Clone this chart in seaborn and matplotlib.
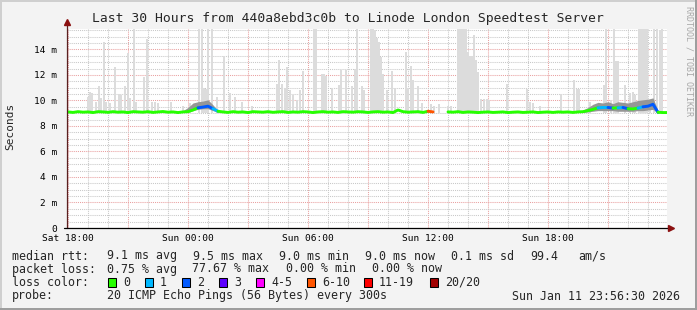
import numpy as np
import pandas as pd
import matplotlib
matplotlib.use("Agg")
import matplotlib.pyplot as plt
import seaborn as sns
from matplotlib.patches import Rectangle
from matplotlib.ticker import FixedLocator

# ---------------- data ----------------
# hours since Sat 18:00, 15-minute steps
median_hours = [i * 0.25 for i in range(121)]
median_ms = [
    9.10, 9.06, 9.12, 9.08, 9.10, 9.05, 9.12, 9.10, 9.07, 9.12,
    9.08, 9.10, 9.05, 9.12, 9.10, 9.08, 9.12, 9.06, 9.10, 9.13,
    9.08, 9.10, 9.05, 9.10, 9.12, 9.25, 9.42, 9.48, 9.55, 9.35,
    9.15, 9.10, 9.06, 9.12, 9.08, 9.10, 9.05, 9.12, 9.10, 9.08,
    9.12, 9.07, 9.10, 9.12, 9.06, 9.10, 9.08, 9.12, 9.10, 9.05,
    9.10, 9.12, 9.08, 9.10, 9.06, 9.12, 9.10, 9.08, 9.12, 9.10,
    9.06, 9.10, 9.12, 9.08, 9.10, 9.05, 9.25, 9.12, 9.08, 9.10,
    9.12, 9.06, 9.15, 9.10, np.nan, np.nan, 9.10, 9.08, 9.12, 9.06,
    9.10, 9.08, 9.05, 9.08, 9.10, 9.06, 9.08, 9.10, 9.05, 9.08,
    9.10, 9.06, 9.08, 9.10, 9.05, 9.08, 9.10, 9.06, 9.10, 9.08,
    9.10, 9.06, 9.10, 9.12, 9.20, 9.30, 9.42, 9.45, 9.45, 9.40,
    9.42, 9.45, 9.35, 9.33, 9.40, 9.50, 9.55, 9.70, 9.07, 9.05,
    9.05,
]
loss_count = [0] * 121
for _i, _v in {26: 2, 27: 2, 28: 2, 29: 1, 72: 7, 106: 1, 107: 1, 108: 2,
               110: 1, 111: 2, 114: 1, 115: 2, 116: 2, 117: 2}.items():
    loss_count[_i] = _v

spike_hours = [
    1.0, 1.1, 1.2, 1.4, 1.55, 1.65, 1.8, 1.9, 2.1, 2.35,
    2.55, 2.65, 2.85, 3.0, 3.1, 3.3, 3.4, 3.8, 3.95, 4.2,
    4.35, 4.5, 5.15, 5.75, 6.1, 6.55, 6.7, 6.8, 6.9, 7.0,
    7.2, 7.45, 7.8, 8.1, 8.35, 8.7, 9.2, 10.45, 10.55, 10.7,
    10.85, 10.95, 11.1, 11.25, 11.45, 11.6, 11.75,
    12.3, 12.4, 12.7, 12.8, 12.9, 13.2, 13.55, 13.65, 13.9, 14.2,
    14.35, 14.45, 14.7, 14.8, 15.15, 15.25, 15.35, 15.45, 15.55, 15.65,
    15.75, 15.95, 16.2, 16.35, 16.9, 17.0, 17.15, 17.25, 17.5, 17.7,
    18.15, 18.3, 18.55, 19.0, 19.15, 19.5, 19.6, 19.7, 19.8, 19.9,
    20.0, 20.1, 20.2, 20.3, 20.4, 20.5, 20.65, 20.8, 20.95, 21.05,
    21.95, 22.95, 23.1, 23.25, 23.6,
    24.65, 25.3, 25.45, 25.55, 26.1, 26.8, 26.9, 27.15, 27.3, 27.4,
    27.5, 27.85, 28.1, 28.25, 28.35, 28.55, 28.65, 28.75, 28.85, 28.95,
    29.1, 29.3, 29.45, 29.6, 29.7,
]
spike_tops = [
    10.3, 10.7, 10.6, 9.9, 11.1, 10.2, 14.6, 9.9, 9.8, 12.6,
    10.5, 10.4, 11.1, 13.7, 10.2, 15.6, 9.9, 11.8, 14.8, 9.9,
    9.9, 9.8, 9.9, 9.6, 9.8, 15.6, 15.6, 11.0, 10.9, 15.6,
    15.6, 10.3, 13.5, 10.6, 10.3, 9.9, 9.6, 11.3, 13.2, 11.3,
    11.0, 12.6, 10.8, 10.4, 10.0, 10.8, 12.3,
    15.6, 15.6, 12.1, 12.1, 11.9, 11.0, 11.2, 12.4, 12.4, 11.1,
    12.5, 15.6, 11.1, 10.8, 15.6, 15.6, 15.5, 14.9, 14.6, 13.4,
    12.1, 10.8, 12.3, 11.0, 13.8, 11.0, 12.7, 11.6, 11.1, 9.8,
    9.7, 9.6, 9.7, 9.6, 9.6, 15.6, 15.6, 15.6, 15.6, 15.6,
    13.8, 13.5, 13.5, 15.1, 13.2, 12.2, 10.1, 10.1, 10.1, 10.0,
    11.3, 10.9, 9.9, 9.8, 9.6,
    10.5, 11.6, 10.9, 10.9, 9.9, 11.2, 15.6, 10.0, 15.6, 13.1,
    13.1, 11.2, 10.6, 10.7, 10.4, 15.6, 15.6, 15.6, 15.6, 15.6,
    10.0, 15.6, 15.6, 15.5, 15.6,
]

dark_a_hours = [5.75, 6.0, 6.25, 6.5, 6.75, 7.0, 7.25, 7.5]
dark_a_lo = [9.05, 9.08, 9.20, 9.30, 9.35, 9.35, 9.20, 9.05]
dark_a_hi = [9.20, 9.45, 9.80, 9.90, 9.95, 10.05, 9.65, 9.20]
dark_b_hours = [25.75, 26.0, 26.25, 26.5, 26.75, 27.0, 27.25, 27.5,
                27.75, 28.0, 28.25, 28.5, 28.75, 29.0, 29.25, 29.5]
dark_b_lo = [9.05, 9.10, 9.15, 9.20, 9.20, 9.20, 9.20, 9.15,
             9.15, 9.15, 9.15, 9.20, 9.20, 9.25, 9.30, 9.00]
dark_b_hi = [9.25, 9.45, 9.70, 9.85, 9.80, 9.90, 9.75, 9.90,
             9.85, 9.80, 9.90, 10.00, 10.05, 10.10, 10.20, 9.20]

loss_labels = ["0", "1", "2", "3", "4-5", "6-10", "11-19", "20/20"]
loss_colors = ["#26ff00", "#00b8ff", "#0059ff", "#5e00ff",
               "#ff00ff", "#ff5500", "#ff0000", "#a10000"]

x_tick_labels = ["Sat 18:00", "Sun 00:00", "Sun 06:00", "Sun 12:00", "Sun 18:00"]
y_tick_labels = ["0", "2 m", "4 m", "6 m", "8 m", "10 m", "12 m", "14 m"]

title = "Last 30 Hours from 440a8ebd3c0b to Linode London Speedtest Server"

# ---------------- style ----------------
W, H = 697, 310
sns.set_theme(style="white")
plt.rcParams["font.family"] = ["DejaVu Sans Mono", "DejaVu Sans"]

fig = plt.figure(figsize=(W / 100, H / 100), dpi=100, facecolor="#f3f3f3")
ax = fig.add_axes([67 / W, (H - 228) / H, 600 / W, 199 / H])
ax.set_facecolor("white")
ax.set_xlim(-0.05, 29.95)
ax.set_ylim(0, 15.6)

def loss_class(n):
    if n <= 3:
        return n
    if n <= 5:
        return 4
    if n <= 10:
        return 5
    if n <= 19:
        return 6
    return 7

# smoke
ax.bar(spike_hours, [t - 9.0 for t in spike_tops], bottom=9.0, width=0.1,
       color="#dcdcdc", linewidth=0, zorder=2, align="center")
ax.fill_between(dark_a_hours, dark_a_lo, dark_a_hi, color="#969696", lw=0, zorder=3)
ax.fill_between(dark_b_hours, dark_b_lo, dark_b_hi, color="#969696", lw=0, zorder=3)

# median line coloured by loss
df = pd.DataFrame({"h": median_hours, "ms": median_ms, "loss": loss_count})
runs = []
cur = None
for i in range(len(df) - 1):
    a, b = df.ms[i], df.ms[i + 1]
    if np.isnan(a) or np.isnan(b):
        cur = None
        continue
    c = loss_colors[loss_class(df.loss[i])]
    if cur is not None and cur[0] == c and cur[2] == i:
        cur[2] = i + 1
    else:
        cur = [c, i, i + 1]
        runs.append(cur)
for c, s, e in runs:
    seg = df.iloc[s:e + 1]
    sns.lineplot(x=seg.h.values, y=seg.ms.values, color=c, linewidth=2.1,
                 ax=ax, estimator=None, sort=False, legend=False, zorder=5)

# grid
ax.set_xticks([0, 3, 6, 9, 12, 15, 18, 21, 24, 27])
xl = []
for k in range(10):
    xl.append(x_tick_labels[k // 2] if k % 2 == 0 else "")
ax.set_xticklabels(xl)
ax.xaxis.set_minor_locator(FixedLocator([h for h in range(1, 30) if h % 3 != 0]))
ax.set_yticks([0, 2, 4, 6, 8, 10, 12, 14])
ax.set_yticklabels(y_tick_labels)
ax.yaxis.set_minor_locator(FixedLocator([v * 0.5 for v in range(1, 32) if v % 4 != 0]))
ax.grid(which="major", color="#e9a0a0", linestyle=(0, (1, 1)), linewidth=0.75)
ax.grid(which="minor", color="#c8c8c8", linestyle=(0, (1, 1)), linewidth=0.75)
ax.set_axisbelow(True)
ax.tick_params(axis="both", which="major", labelsize=6.8, colors="#000000",
               length=2, width=0.75, direction="out")
ax.tick_params(axis="y", which="major", pad=5)
ax.tick_params(axis="x", which="major", pad=2.5)
ax.tick_params(axis="both", which="minor", length=0)
for s in ax.spines.values():
    s.set_visible(False)

# axes with arrows
ax.plot([0, 0], [0, 1.035], transform=ax.transAxes, clip_on=False,
        color="#5a2020", lw=0.9, zorder=6)
ax.plot([-0.005, 1.003], [0, 0], transform=ax.transAxes, clip_on=False,
        color="#000000", lw=0.9, zorder=6)
ax.plot([0], [1.035], marker="^", markersize=4.5, color="#8b1010",
        transform=ax.transAxes, clip_on=False, zorder=7)
ax.plot([1.006], [0], marker=">", markersize=4.5, color="#8b1010",
        transform=ax.transAxes, clip_on=False, zorder=7)

# texts
def ftext(x, y, s, **kw):
    kw.setdefault("fontsize", 8.4)
    kw.setdefault("va", "center")
    kw.setdefault("ha", "left")
    fig.text(x / W, 1 - y / H, s, **kw)

ftext(347.5, 18.5, title, fontsize=9.4, ha="center")
ftext(10.5, 126, "Seconds", fontsize=8, rotation=90, ha="center")
ftext(689, 61, "RRDTOOL / TOBI OETIKER", fontsize=6, rotation=270,
      ha="center", color="#a8a8a8")

row1 = [(12, "median rtt:"), (107, "9.1 ms avg"), (193, "9.5 ms max"),
        (279, "9.0 ms min"), (365, "9.0 ms now"), (451, "0.1 ms sd"),
        (530, "99.4"), (578, "am/s")]
row2 = [(12, "packet loss:"), (107, "0.75 % avg"), (192, "77.67 % max"),
        (286, "0.00 % min"), (372, "0.00 % now")]
for x, s in row1:
    ftext(x, 256, s)
for x, s in row2:
    ftext(x, 269, s)
ftext(12, 282, "loss color:")
box_x = [108, 145, 182, 219, 256, 307, 364, 430]
for bx, lab, col in zip(box_x, loss_labels, loss_colors):
    fig.add_artist(Rectangle((bx / W, 1 - 286.5 / H), 8 / W, 9 / H,
                             transform=fig.transFigure, facecolor=col,
                             edgecolor="black", linewidth=0.75))
    ftext(bx + 15, 282, lab)
ftext(12, 296, "probe:")
ftext(107, 296, "20 ICMP Echo Pings (56 Bytes) every 300s")
ftext(680, 296, "Sun Jan 11 23:56:30 2026", ha="right")

# frame shading
fig.add_artist(Rectangle((0, 1 - 2 / H), 1, 2 / H, transform=fig.transFigure,
                         facecolor="#cfcfcf", lw=0))
fig.add_artist(Rectangle((0, 0), 2 / W, 1, transform=fig.transFigure,
                         facecolor="#cfcfcf", lw=0))
fig.add_artist(Rectangle((1 - 2 / W, 0), 2 / W, 1, transform=fig.transFigure,
                         facecolor="#9e9e9e", lw=0))
fig.add_artist(Rectangle((0, 0), 1, 2 / H, transform=fig.transFigure,
                         facecolor="#9e9e9e", lw=0))

fig.savefig("out.png", dpi=100, facecolor=fig.get_facecolor())
